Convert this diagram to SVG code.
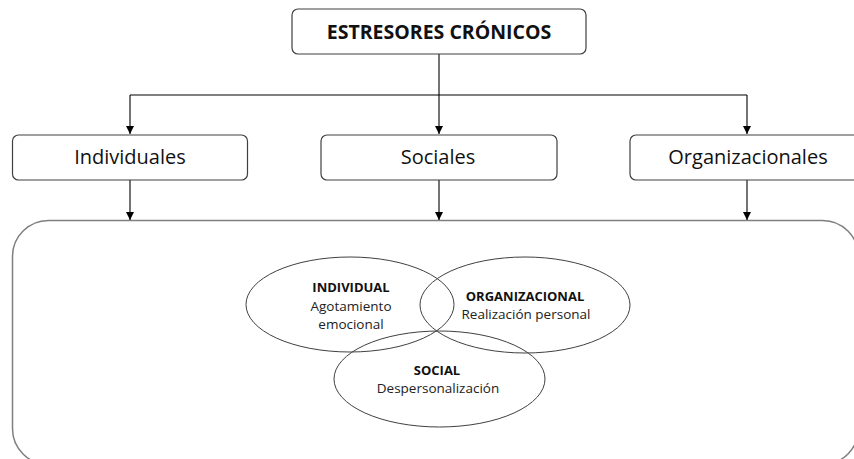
<svg xmlns="http://www.w3.org/2000/svg" width="854" height="459" viewBox="0 0 854 459">
<style>
.box{fill:#fff;stroke:#404040;stroke-width:1.2}
.big{fill:none;stroke:#7f7f7f;stroke-width:1.5}
.ell{fill:none;stroke:#404040;stroke-width:1}
.t{font-family:"Open Sans","Liberation Sans",sans-serif;fill:#111;text-anchor:middle}
.lbl{font-size:20px}
.title{font-size:19.5px;font-weight:bold}
.eb{font-size:13px;font-weight:bold}
.en{font-size:13.5px;fill:#222}
.c{stroke:#000;stroke-width:1.1;fill:none}
</style>
<defs>
<marker id="ah" viewBox="0 0 8 8" refX="8" refY="4" markerWidth="8" markerHeight="8" markerUnits="userSpaceOnUse" orient="auto">
<path d="M0,0 L8,4 L0,8 Z" fill="#000"/>
</marker>
</defs>
<g id="container">
<rect class="big" x="12.5" y="220.5" width="846" height="244" rx="36" ry="36"/>
</g>
<g id="connectors">
<path class="c" d="M439,54 V134" marker-end="url(#ah)"/>
<path class="c" d="M130,95 H747"/>
<path class="c" d="M130,95 V134" marker-end="url(#ah)"/>
<path class="c" d="M747,95 V134" marker-end="url(#ah)"/>
<path class="c" d="M130,180 V220" marker-end="url(#ah)"/>
<path class="c" d="M439,180 V220" marker-end="url(#ah)"/>
<path class="c" d="M747,180 V220" marker-end="url(#ah)"/>
</g>
<g id="estresores">
<rect class="box" x="292" y="9" width="294" height="45" rx="6"/>
<text class="t title" x="439" y="39">ESTRESORES CRÓNICOS</text>
</g>
<g id="individuales">
<rect class="box" x="12.5" y="135" width="235" height="45" rx="6"/>
<text class="t lbl" x="130" y="164">Individuales</text>
</g>
<g id="sociales">
<rect class="box" x="321" y="135" width="236" height="45" rx="6"/>
<text class="t lbl" x="438" y="164">Sociales</text>
</g>
<g id="organizacionales">
<rect class="box" x="630" y="135" width="236" height="45" rx="6"/>
<text class="t lbl" x="748" y="164">Organizacionales</text>
</g>
<g id="individual">
<ellipse class="ell" cx="350" cy="304.5" rx="104" ry="47.5"/>
<text class="t eb" x="351" y="292">INDIVIDUAL</text>
<text class="t en" x="351" y="311">Agotamiento</text>
<text class="t en" x="351" y="329">emocional</text>
</g>
<g id="organizacional">
<ellipse class="ell" cx="525" cy="305" rx="105" ry="48"/>
<text class="t eb" x="525" y="301">ORGANIZACIONAL</text>
<text class="t en" x="526" y="319">Realización personal</text>
</g>
<g id="social">
<ellipse class="ell" cx="439.5" cy="379" rx="105.5" ry="48"/>
<text class="t eb" x="437" y="375">SOCIAL</text>
<text class="t en" x="438" y="393">Despersonalización</text>
</g>
</svg>
